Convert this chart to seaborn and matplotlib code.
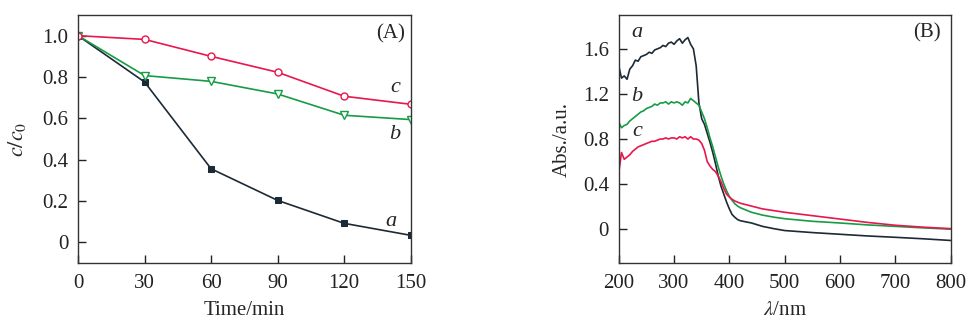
import matplotlib
matplotlib.use("Agg")
import matplotlib.pyplot as plt
import seaborn as sns
import numpy as np

# ---------------- Panel A data ----------------
time_min = [0, 30, 60, 90, 120, 150]
ratio_a = [1.0, 0.776, 0.356, 0.203, 0.092, 0.034]
ratio_b = [1.0, 0.807, 0.779, 0.718, 0.615, 0.594]
ratio_c = [1.0, 0.982, 0.900, 0.823, 0.707, 0.668]

# ---------------- Panel B data ----------------
wavelength = [200, 205, 210, 215, 220, 225, 230, 235, 240, 245, 250, 255, 260, 265,
              270, 275, 280, 285, 290, 295, 300, 305, 310, 315, 320, 325, 330, 335,
              340, 345, 350, 355, 360, 365, 370, 375, 380, 385, 390, 395, 400, 405,
              410, 415, 420, 440, 460, 480, 500, 550, 600, 650, 700, 750, 800]
abs_a = [1.45, 1.34, 1.36, 1.33, 1.42, 1.45, 1.50, 1.49, 1.53, 1.54, 1.55, 1.57, 1.56, 1.59,
         1.60, 1.61, 1.63, 1.62, 1.65, 1.66, 1.64, 1.67, 1.69, 1.65, 1.68, 1.70, 1.64, 1.60,
         1.45, 1.12, 0.98, 0.93, 0.85, 0.77, 0.68, 0.58, 0.47, 0.38, 0.31, 0.24, 0.18, 0.13,
         0.105, 0.085, 0.075, 0.055, 0.025, 0.005, -0.012, -0.03, -0.045, -0.06, -0.072, -0.085, -0.10]
abs_b = [0.95, 0.90, 0.92, 0.93, 0.96, 0.98, 1.00, 1.02, 1.04, 1.05, 1.07, 1.08, 1.09, 1.11,
         1.10, 1.12, 1.12, 1.13, 1.11, 1.13, 1.12, 1.13, 1.12, 1.10, 1.13, 1.12, 1.16, 1.14,
         1.12, 1.10, 1.04, 0.98, 0.90, 0.81, 0.73, 0.64, 0.55, 0.47, 0.40, 0.34, 0.29, 0.255,
         0.225, 0.205, 0.19, 0.15, 0.125, 0.107, 0.093, 0.07, 0.055, 0.038, 0.025, 0.012, 0.0]
abs_c = [0.50, 0.68, 0.62, 0.64, 0.66, 0.69, 0.71, 0.73, 0.74, 0.75, 0.76, 0.77, 0.78, 0.78,
         0.79, 0.80, 0.80, 0.81, 0.80, 0.81, 0.81, 0.80, 0.82, 0.81, 0.82, 0.80, 0.82, 0.80,
         0.80, 0.79, 0.76, 0.70, 0.60, 0.56, 0.53, 0.51, 0.47, 0.42, 0.36, 0.31, 0.285, 0.265,
         0.25, 0.24, 0.23, 0.205, 0.18, 0.165, 0.15, 0.12, 0.09, 0.06, 0.035, 0.018, 0.005]

a_ticks_x = [0, 30, 60, 90, 120, 150]
a_ticks_y = [0, 0.2, 0.4, 0.6, 0.8, 1.0]
a_tick_labels_y = ["0", "0.2", "0.4", "0.6", "0.8", "1.0"]
b_ticks_x = [200, 300, 400, 500, 600, 700, 800]
b_ticks_y = [0, 0.4, 0.8, 1.2, 1.6]
b_tick_labels_y = ["0", "0.4", "0.8", "1.2", "1.6"]

col_a = "#1c2a36"
col_b = "#179b45"
col_c = "#e8174c"

sns.set_theme(style="ticks")
plt.rcParams["font.family"] = ["Liberation Serif", "DejaVu Serif"]
plt.rcParams["mathtext.fontset"] = "stix"
plt.rcParams["font.size"] = 15

FS = 15

fig = plt.figure(figsize=(9.79, 3.30), dpi=100)
axA = fig.add_axes([0.0797, 0.203, 0.3398, 0.7515])
axB = fig.add_axes([0.632, 0.203, 0.339, 0.7515])

# Panel A
sns.lineplot(x=time_min, y=ratio_a, ax=axA, color=col_a, marker="s", markersize=5,
             markerfacecolor=col_a, markeredgecolor=col_a, lw=1.2, estimator=None)
sns.lineplot(x=time_min, y=ratio_b, ax=axA, color=col_b, marker="v", markersize=6,
             markerfacecolor="white", markeredgecolor=col_b, markeredgewidth=1.0, lw=1.2, estimator=None)
sns.lineplot(x=time_min, y=ratio_c, ax=axA, color=col_c, marker="o", markersize=5,
             markerfacecolor="white", markeredgecolor=col_c, markeredgewidth=1.0, lw=1.2, estimator=None)
axA.set_xlim(0, 150)
axA.set_ylim(-0.1, 1.1)
axA.set_xticks(a_ticks_x)
axA.set_yticks(a_ticks_y)
axA.set_yticklabels(a_tick_labels_y)
axA.set_xlabel("Time/min", fontsize=FS, labelpad=6)
axA.set_ylabel(r"$c/c_{\mathrm{0}}$", fontsize=FS + 1, labelpad=10)
axA.text(141, 1.01, "(A)", fontsize=FS, ha="center", va="center")
axA.text(143, 0.75, "c", fontsize=FS + 1, style="italic", ha="center", va="center")
axA.text(143, 0.52, "b", fontsize=FS + 1, style="italic", ha="center", va="center")
axA.text(141, 0.10, "a", fontsize=FS + 1, style="italic", ha="center", va="center")

# Panel B
sns.lineplot(x=wavelength, y=abs_a, ax=axB, color=col_a, lw=1.2, estimator=None)
sns.lineplot(x=wavelength, y=abs_b, ax=axB, color=col_b, lw=1.2, estimator=None)
sns.lineplot(x=wavelength, y=abs_c, ax=axB, color=col_c, lw=1.2, estimator=None)
axB.set_xlim(200, 800)
axB.set_ylim(-0.3, 1.9)
axB.set_xticks(b_ticks_x)
axB.set_yticks(b_ticks_y)
axB.set_yticklabels(b_tick_labels_y)
axB.set_xlabel(r"$\lambda$/nm", fontsize=FS, labelpad=6)
axB.set_ylabel("Abs./a.u.", fontsize=FS, labelpad=8)
axB.text(233, 1.745, "a", fontsize=FS + 1, style="italic", ha="center", va="center")
axB.text(233, 1.18, "b", fontsize=FS + 1, style="italic", ha="center", va="center")
axB.text(233, 0.87, "c", fontsize=FS + 1, style="italic", ha="center", va="center")
axB.text(757, 1.745, "(B)", fontsize=FS, ha="center", va="center")

for ax in (axA, axB):
    ax.tick_params(direction="in", length=6, width=1, labelsize=FS, top=False, right=False,
                   colors="#222222")
    ax.tick_params(axis="x", pad=8)
    ax.tick_params(axis="y", pad=7)
    for sp in ax.spines.values():
        sp.set_linewidth(1.0)
        sp.set_color("#333333")

fig.savefig("out.png", dpi=100)
